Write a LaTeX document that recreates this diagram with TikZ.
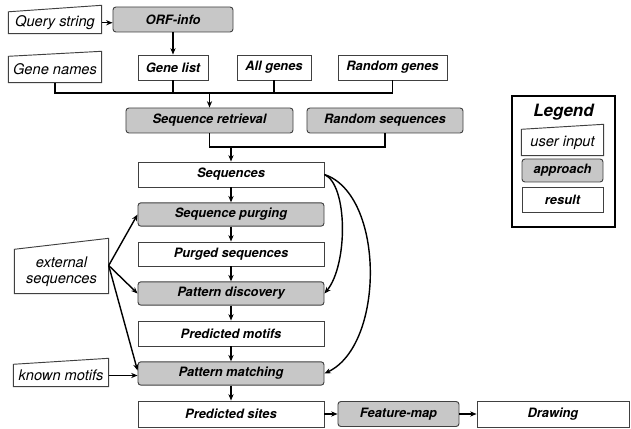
\documentclass[tikz,border=0pt]{standalone}
\usepackage{fontspec}
\setmainfont{TeX Gyre Heros}
\usetikzlibrary{arrows.meta}

\begin{document}
\begin{tikzpicture}[
          x=0.03cm, y=-0.03cm,
          >={Stealth[length=5.5pt,width=4.5pt]},
          every path/.style={line width=1.2pt},
          inp/.style={inner sep=0pt, font=\fontsize{12.5}{14}\selectfont\itshape, align=center},
          inpline/.style={draw=black!75, line width=0.8pt},
          appr/.style={draw=black!75, line width=0.8pt, fill=black!22, rounded corners=2.5pt, inner sep=0pt,
                       font=\fontsize{11}{13}\selectfont\bfseries\itshape},
          res/.style={draw=black!75, line width=0.8pt, fill=white, inner sep=0pt,
                      font=\fontsize{11}{13}\selectfont\bfseries\itshape}
      ]
        \useasboundingbox (0,0) rectangle (631,429);
        % user input
        \node[inp, minimum width=2.76cm, minimum height=0.615cm] (qs) at (55,22.75) {Query string};
        \node[inp, minimum width=2.76cm, minimum height=0.75cm] (gn) at (55,69.5) {Gene names};
        \node[inp, minimum width=2.79cm, minimum height=1.29cm] (ext) at (61.5,271.5) {external\\sequences};
        \node[inp, minimum width=2.82cm, minimum height=0.63cm] (km) at (61,375.5) {known motifs};
        % top row
        \node[appr, minimum width=3.6cm, minimum height=0.75cm] (orf) at (173,19.5) {ORF-info};
        \node[res, minimum width=2.1cm, minimum height=0.75cm] (gl) at (173,67.5) {Gene list};
        \node[res, minimum width=2.22cm, minimum height=0.75cm] (ag) at (274,67.5) {All genes};
        \node[res, minimum width=3.27cm, minimum height=0.75cm] (rg) at (392.5,67.5) {Random genes};
        \node[appr, minimum width=5.01cm, minimum height=0.75cm] (sr) at (209.5,120.5) {Sequence retrieval};
        \node[appr, minimum width=4.68cm, minimum height=0.75cm] (rs) at (385,120.5) {Random sequences};
        % main column
        \node[res, minimum width=5.58cm, minimum height=0.75cm] (seq) at (231,174.5) {Sequences};
        \node[appr, minimum width=5.58cm, minimum height=0.7cm] (sp) at (231,214.5) {Sequence purging};
        \node[res, minimum width=5.58cm, minimum height=0.72cm] (ps) at (231,254) {Purged sequences};
        \node[appr, minimum width=5.58cm, minimum height=0.7cm] (pd) at (231,293.5) {Pattern discovery};
        \node[res, minimum width=5.58cm, minimum height=0.75cm] (pm) at (231,333.5) {Predicted motifs};
        \node[appr, minimum width=5.58cm, minimum height=0.7cm] (pmt) at (231,373.5) {Pattern matching};
        \node[res, minimum width=5.58cm, minimum height=0.78cm] (psites) at (231,414) {Predicted sites};
        \node[appr, minimum width=3.63cm, minimum height=0.75cm] (fm) at (398.5,414) {Feature-map};
        \node[res, minimum width=4.56cm, minimum height=0.78cm] (dr) at (553,414) {Drawing};
        % legend
        \draw[line width=1.8pt] (512,96) rectangle (615,227);
        \node[font=\fontsize{14.5}{16}\selectfont\bfseries\itshape] (lgtitle) at (563.5,112) {Legend};
        \node[inp, minimum width=2.43cm, minimum height=0.75cm] (lgin) at (562.5,142.5) {user input};
        \node[appr, minimum width=2.43cm, minimum height=0.69cm] (lgap) at (562.5,170.5) {approach};
        \node[res, minimum width=2.43cm, minimum height=0.75cm] (lgres) at (562.5,199.5) {result};

        % slanted tops of the user input boxes
        \foreach \n/\r in {qs/6.5, gn/5, ext/11, km/6, lgin/5}
          \draw[inpline] (\n.south west) -- (\n.south east) -- ([yshift=\r*0.03cm]\n.north east) -- (\n.north west) -- cycle;

        % connectors
        \draw[->] (qs.east) -- (qs.east -| orf.west);
        \draw[->] (orf) -- (gl);
        \coordinate (bus1) at (209.5,93);
        \draw (gn.south) |- (rg.south |- bus1) -- (rg.south);
        \draw (gl.south) -- (gl.south |- bus1);
        \draw (ag.south) -- (ag.south |- bus1);
        \draw[->] (bus1) -- (sr.north);
        \coordinate (bus2) at (231,147);
        \draw (sr.south) |- (rs.south |- bus2) -- (rs.south);
        \draw[->] (bus2) -- (seq.north);
        \foreach \a/\b in {seq/sp, sp/ps, ps/pd, pd/pm, pm/pmt, pmt/psites}
          \draw[->] (\a) -- (\b);
        \draw[->] (psites) -- (fm);
        \draw[->] (fm) -- (dr);
        \coordinate (extout) at ([yshift=0.18cm]ext.east);
        \draw[->] (extout) -- (sp.west);
        \draw[->] (extout) -- (pd.west);
        \draw[->] (extout) -- ([yshift=0.09cm]pmt.west);
        \draw[->] (km.east) -- (km.east -| pmt.west);
        \draw[->] (seq.east) .. controls (348,185) and (348,265) .. (pd.east);
        \draw[->] (seq.east) .. controls (385,195) and (385,345) .. (pmt.east);
      \end{tikzpicture}
\end{document}
